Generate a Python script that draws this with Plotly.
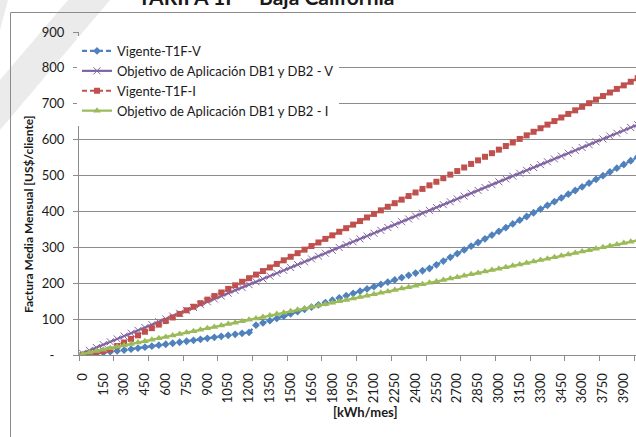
import plotly.graph_objects as go

# Monthly consumption [kWh/mes]
kwh = [0, 50, 100, 150, 200, 250, 300, 350, 400, 450, 500, 550, 600, 650, 700, 750,
       800, 850, 900, 950, 1000, 1050, 1100, 1150, 1200, 1250, 1300, 1350, 1400, 1450,
       1500, 1550, 1600, 1650, 1700, 1750, 1800, 1850, 1900, 1950, 2000, 2050, 2100,
       2150, 2200, 2250, 2300, 2350, 2400, 2450, 2500, 2550, 2600, 2650, 2700, 2750,
       2800, 2850, 2900, 2950, 3000, 3050, 3100, 3150, 3200, 3250, 3300, 3350, 3400,
       3450, 3500, 3550, 3600, 3650, 3700, 3750, 3800, 3850, 3900, 3950, 4000]

# Average monthly bill [US$/cliente]
vigente_v = [0.0, 2.3, 4.5, 6.8, 9.0, 11.3, 13.5, 16.3, 19.0, 21.8, 24.5, 27.3, 30.0, 32.8,
             35.5, 38.3, 41.0, 43.8, 46.5, 49.3, 52.0, 54.8, 57.5, 60.3, 63.0, 83.0, 89.3,
             95.6, 102.0, 108.3, 114.6, 120.9, 127.2, 133.6, 139.9, 146.2, 152.5, 158.8,
             165.2, 171.5, 177.8, 184.1, 190.4, 196.8, 203.1, 209.4, 215.7, 222.0, 228.4,
             234.7, 241.0, 251.4, 261.7, 272.1, 282.4, 292.8, 303.1, 313.5, 323.8, 334.2,
             344.5, 354.9, 365.2, 375.6, 385.9, 396.3, 406.6, 417.0, 427.3, 437.7, 448.0,
             458.4, 468.7, 479.1, 489.4, 499.8, 510.1, 520.5, 530.8, 541.2, 551.5]

objetivo_v = [5.0, 13.0, 20.9, 28.9, 36.8, 44.8, 52.8, 60.7, 68.7, 76.6, 84.6, 92.6, 100.5,
              108.5, 116.4, 124.4, 132.4, 140.3, 148.3, 156.2, 164.2, 172.2, 180.1, 188.1,
              196.0, 204.0, 212.0, 219.9, 227.9, 235.8, 243.8, 251.8, 259.7, 267.7, 275.6,
              283.6, 291.6, 299.5, 307.5, 315.4, 323.4, 331.4, 339.3, 347.3, 355.2, 363.2,
              371.2, 379.1, 387.1, 395.0, 403.0, 411.0, 418.9, 426.9, 434.8, 442.8, 450.8,
              458.7, 466.7, 474.6, 482.6, 490.6, 498.5, 506.5, 514.4, 522.4, 530.4, 538.3,
              546.3, 554.2, 562.2, 570.2, 578.1, 586.1, 594.0, 602.0, 610.0, 617.9, 625.9,
              633.8, 641.8]

vigente_i = [0.0, 3.5, 7.0, 11.0, 15.0, 25.0, 34.9, 44.9, 54.8, 64.8, 74.7, 84.7, 94.6,
             104.6, 114.5, 124.5, 134.4, 144.4, 154.3, 164.3, 174.2, 184.2, 194.1, 204.1,
             214.0, 224.0, 233.9, 243.9, 253.8, 263.8, 273.7, 283.7, 293.6, 303.6, 313.5,
             323.5, 333.4, 343.4, 353.3, 363.3, 373.2, 383.2, 393.1, 403.1, 413.0, 423.0,
             432.9, 442.9, 452.8, 462.8, 472.7, 482.7, 492.6, 502.6, 512.5, 522.5, 532.4,
             542.4, 552.3, 562.3, 572.2, 582.2, 592.1, 602.1, 612.0, 622.0, 631.9, 641.9,
             651.8, 661.8, 671.7, 681.7, 691.6, 701.6, 711.5, 721.5, 731.4, 741.4, 751.3,
             761.3, 771.2]

objetivo_i = [3.0, 7.0, 10.9, 14.9, 18.8, 22.8, 26.8, 30.7, 34.7, 38.6, 42.6, 46.6, 50.5,
              54.5, 58.4, 62.4, 66.4, 70.3, 74.3, 78.2, 82.2, 86.2, 90.1, 94.1, 98.0, 102.0,
              106.0, 109.9, 113.9, 117.8, 121.8, 125.8, 129.7, 133.7, 137.6, 141.6, 145.6,
              149.5, 153.5, 157.4, 161.4, 165.4, 169.3, 173.3, 177.2, 181.2, 185.2, 189.1,
              193.1, 197.0, 201.0, 205.0, 208.9, 212.9, 216.8, 220.8, 224.8, 228.7, 232.7,
              236.6, 240.6, 244.6, 248.5, 252.5, 256.4, 260.4, 264.4, 268.3, 272.3, 276.2,
              280.2, 284.2, 288.1, 292.1, 296.0, 300.0, 304.0, 307.9, 311.9, 315.8, 319.8]

# Axis labels
x_tick_vals = [0, 150, 300, 450, 600, 750, 900, 1050, 1200, 1350, 1500, 1650, 1800, 1950,
               2100, 2250, 2400, 2550, 2700, 2850, 3000, 3150, 3300, 3450, 3600, 3750, 3900]
x_tick_text = [str(v) for v in x_tick_vals]
y_tick_vals = [0, 100, 200, 300, 400, 500, 600, 700, 800, 900]
y_tick_text = ["-\u00a0\u00a0\u00a0", "100", "200", "300", "400", "500", "600", "700", "800", "900"]

FONT = "Lato"
GRID = "#8c8c8c"
TXT = "#1a1a1a"

BLUE, PURPLE, RED, GREEN = "#4F81BD", "#8064A2", "#C0504D", "#9BBB59"

W, H = 636, 437
ML, MR, MT, MB = 79, 0, 32, 82
PW, PH = W - ML - MR, H - MT - MB


def px(xp):
    """Horizontal page pixel -> paper fraction of the plot area."""
    return (xp - ML) / PW


def py(yp):
    """Vertical page pixel (from top) -> paper fraction of the plot area."""
    return (H - MB - yp) / PH


fig = go.Figure()

fig.add_trace(go.Scatter(
    x=kwh, y=vigente_v, name="Vigente-T1F-V", mode="lines+markers", legendgroup="a",
    line=dict(color=BLUE, width=2.2, dash="5px,3px"),
    marker=dict(symbol="diamond", size=6, color=BLUE)))
fig.add_trace(go.Scatter(
    x=kwh, y=objetivo_v, name="Objetivo de Aplicación DB1 y DB2 - V", mode="lines+markers",
    legendgroup="b",
    line=dict(color=PURPLE, width=2.2),
    marker=dict(symbol="x-thin", size=7, color=PURPLE, line=dict(width=1, color=PURPLE))))
fig.add_trace(go.Scatter(
    x=kwh, y=vigente_i, name="Vigente-T1F-I", mode="lines+markers", legendgroup="c",
    line=dict(color=RED, width=2.2, dash="5px,3px"),
    marker=dict(symbol="square", size=6, color=RED)))
fig.add_trace(go.Scatter(
    x=kwh, y=objetivo_i, name="Objetivo de Aplicación DB1 y DB2 - I", mode="lines+markers",
    legendgroup="d",
    line=dict(color=GREEN, width=2.2),
    marker=dict(symbol="triangle-up", size=7, color=GREEN)))
# empty trace carrying the category-boundary tick axis
fig.add_trace(go.Scatter(x=[], y=[], xaxis="x2", showlegend=False, hoverinfo="skip"))

x_range = [-25, 3988]

fig.update_layout(
    width=W, height=H,
    margin=dict(l=ML, r=MR, t=MT, b=MB),
    paper_bgcolor="white", plot_bgcolor="white",
    font=dict(family=FONT, color=TXT),
    showlegend=True,
    legend=dict(x=px(77), y=py(36), xanchor="left", yanchor="top",
                bgcolor="white", borderwidth=0, traceorder="grouped",
                tracegroupgap=0, font=dict(size=13, family=FONT, color=TXT)),
    xaxis=dict(range=x_range, tickmode="array", tickvals=x_tick_vals, ticktext=x_tick_text,
               tickangle=-90, ticks="", showgrid=False, zeroline=False,
               showline=True, linecolor=GRID, linewidth=1,
               tickfont=dict(size=13, family=FONT, color=TXT), ticklabelstandoff=12),
    xaxis2=dict(range=x_range, overlaying="x", anchor="y", side="bottom",
                tickmode="linear", tick0=-25, dtick=250, ticks="outside", ticklen=5,
                tickcolor=GRID, tickwidth=1, showticklabels=False, showgrid=False,
                zeroline=False, showline=False),
    yaxis=dict(range=[0, 900], tickmode="array", tickvals=y_tick_vals, ticktext=y_tick_text,
               ticks="outside", ticklen=5, tickcolor=GRID, tickwidth=1,
               showgrid=True, gridcolor=GRID, gridwidth=1, zeroline=False,
               showline=True, linecolor=GRID, linewidth=1,
               tickfont=dict(size=13, family=FONT, color=TXT), ticklabelstandoff=6),
)

# light watermark stripes behind the chart
fig.add_shape(type="path", xref="paper", yref="paper", layer="below",
              path=(f"M {px(68)},{py(0)} L {px(110)},{py(0)} "
                    f"L {px(0)},{py(130)} L {px(0)},{py(80)} Z"),
              fillcolor="#ebebeb", line=dict(width=0))
fig.add_shape(type="path", xref="paper", yref="paper", layer="below",
              path=f"M {px(0)},{py(0)} L {px(8)},{py(0)} L {px(0)},{py(30)} Z",
              fillcolor="#ebebeb", line=dict(width=0))

# chart area frame
fig.add_shape(type="rect", xref="paper", yref="paper", layer="below",
              x0=px(10.5), x1=px(W + 20), y0=py(H + 20), y1=py(12.5),
              line=dict(color="#8a8a8a", width=1), fillcolor="rgba(0,0,0,0)")

fig.add_annotation(text="<b>TARIFA 1F – Baja California</b>", xref="paper", yref="paper",
                   x=px(266), y=py(11), xanchor="center", yanchor="bottom",
                   showarrow=False, font=dict(size=21, family=FONT, color=TXT))
fig.add_annotation(text="<b>Factura Media Mensual [US$/cliente]</b>", xref="paper",
                   yref="paper", x=px(28), y=py(214), xanchor="center",
                   yanchor="middle", textangle=-90, showarrow=False,
                   font=dict(size=12, family=FONT, color=TXT))
fig.add_annotation(text="<b>[kWh/mes]</b>", xref="paper", yref="paper",
                   x=px(365), y=py(412), xanchor="center", yanchor="middle",
                   showarrow=False, font=dict(size=13, family=FONT, color=TXT))

fig.write_html("out.html")
